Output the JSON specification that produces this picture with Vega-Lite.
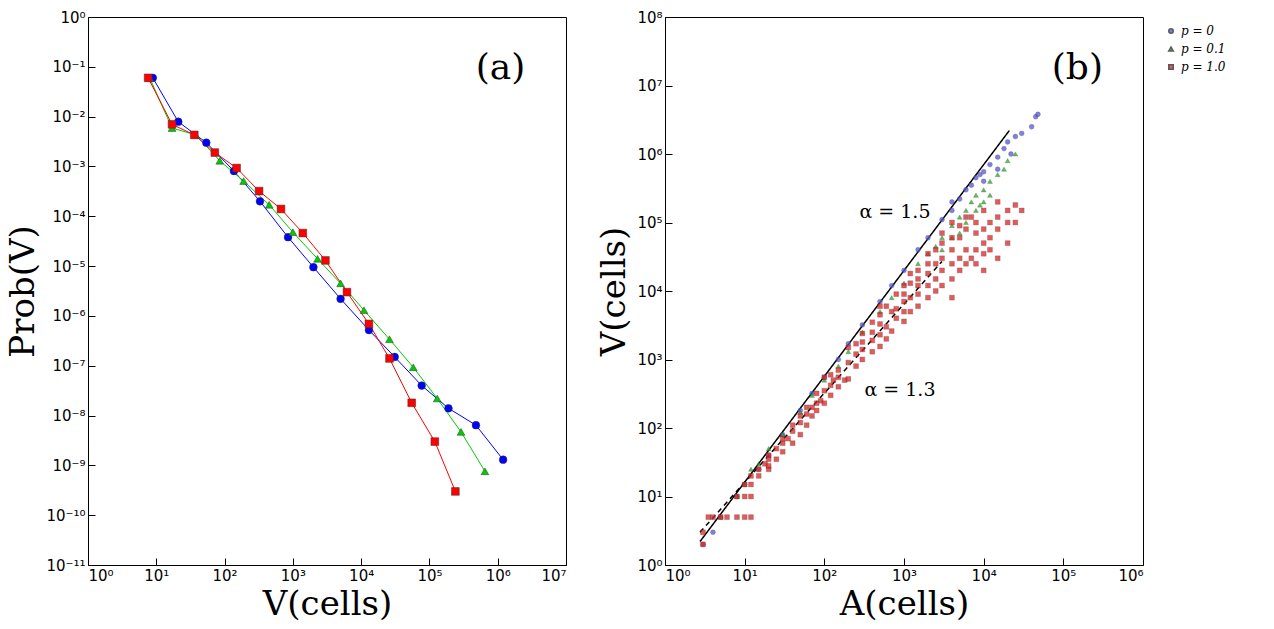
{
  "$schema": "https://vega.github.io/schema/vega-lite/v6.json",
  "background": "white",
  "padding": {"left": 6, "top": 9, "right": 5, "bottom": 2},
  "spacing": 30,
  "datasets": {
    "a": [
      {"s": "p = 0", "V": 8.9, "P": 0.06}, {"s": "p = 0", "V": 21, "P": 0.0079}, {"s": "p = 0", "V": 54, "P": 0.003},
      {"s": "p = 0", "V": 137, "P": 0.00081}, {"s": "p = 0", "V": 330, "P": 0.0002}, {"s": "p = 0", "V": 850, "P": 0.000038},
      {"s": "p = 0", "V": 2000, "P": 0.0000095}, {"s": "p = 0", "V": 5000, "P": 0.0000022}, {"s": "p = 0", "V": 13000, "P": 5.2e-7},
      {"s": "p = 0", "V": 31000, "P": 1.5e-7}, {"s": "p = 0", "V": 77000, "P": 4e-8}, {"s": "p = 0", "V": 190000, "P": 1.4e-8},
      {"s": "p = 0", "V": 480000, "P": 6.4e-9}, {"s": "p = 0", "V": 1200000, "P": 1.3e-9},
      {"s": "p = 0.1", "V": 8, "P": 0.06}, {"s": "p = 0.1", "V": 17, "P": 0.0059}, {"s": "p = 0.1", "V": 38, "P": 0.0043},
      {"s": "p = 0.1", "V": 85, "P": 0.0013}, {"s": "p = 0.1", "V": 190, "P": 0.00051}, {"s": "p = 0.1", "V": 450, "P": 0.00017},
      {"s": "p = 0.1", "V": 1000, "P": 0.000048}, {"s": "p = 0.1", "V": 2300, "P": 0.000014}, {"s": "p = 0.1", "V": 5000, "P": 0.0000045},
      {"s": "p = 0.1", "V": 11000, "P": 0.0000013}, {"s": "p = 0.1", "V": 26000, "P": 3.4e-7}, {"s": "p = 0.1", "V": 58000, "P": 9.3e-8},
      {"s": "p = 0.1", "V": 130000, "P": 2.2e-8}, {"s": "p = 0.1", "V": 290000, "P": 4.7e-9}, {"s": "p = 0.1", "V": 650000, "P": 7.6e-10},
      {"s": "p = 1.0", "V": 7.6, "P": 0.06}, {"s": "p = 1.0", "V": 17, "P": 0.007}, {"s": "p = 1.0", "V": 36, "P": 0.0043},
      {"s": "p = 1.0", "V": 72, "P": 0.0019}, {"s": "p = 1.0", "V": 150, "P": 0.00093}, {"s": "p = 1.0", "V": 320, "P": 0.00032},
      {"s": "p = 1.0", "V": 670, "P": 0.00014}, {"s": "p = 1.0", "V": 1400, "P": 0.000046}, {"s": "p = 1.0", "V": 3000, "P": 0.000013},
      {"s": "p = 1.0", "V": 6200, "P": 0.000003}, {"s": "p = 1.0", "V": 13000, "P": 6.9e-7}, {"s": "p = 1.0", "V": 26000, "P": 1.4e-7},
      {"s": "p = 1.0", "V": 55000, "P": 1.8e-8}, {"s": "p = 1.0", "V": 120000, "P": 3e-9}, {"s": "p = 1.0", "V": 240000, "P": 3e-10}
    ],
    "b": [
      {"p": "p = 0", "A": 3, "V": 2}, {"p": "p = 0", "A": 4, "V": 3}, {"p": "p = 0", "A": 5, "V": 5}, {"p": "p = 0", "A": 8, "V": 10},
      {"p": "p = 0", "A": 10, "V": 15}, {"p": "p = 0", "A": 15, "V": 25}, {"p": "p = 0", "A": 20, "V": 40}, {"p": "p = 0", "A": 30, "V": 80},
      {"p": "p = 0", "A": 50, "V": 180}, {"p": "p = 0", "A": 100, "V": 550}, {"p": "p = 0", "A": 200, "V": 1700}, {"p": "p = 0", "A": 300, "V": 3200},
      {"p": "p = 0", "A": 500, "V": 7000}, {"p": "p = 0", "A": 1000, "V": 20000}, {"p": "p = 0", "A": 2000, "V": 60000}, {"p": "p = 0", "A": 3000, "V": 110000},
      {"p": "p = 0", "A": 4000, "V": 150000}, {"p": "p = 0", "A": 4000, "V": 200000}, {"p": "p = 0", "A": 5000, "V": 220000}, {"p": "p = 0", "A": 6000, "V": 300000},
      {"p": "p = 0", "A": 8000, "V": 450000}, {"p": "p = 0", "A": 10000, "V": 550000}, {"p": "p = 0", "A": 10000, "V": 400000}, {"p": "p = 0", "A": 12000, "V": 700000},
      {"p": "p = 0", "A": 15000, "V": 900000}, {"p": "p = 0", "A": 15000, "V": 600000}, {"p": "p = 0", "A": 20000, "V": 1500000}, {"p": "p = 0", "A": 25000, "V": 1800000},
      {"p": "p = 0", "A": 30000, "V": 2000000}, {"p": "p = 0", "A": 40000, "V": 2500000}, {"p": "p = 0", "A": 45000, "V": 3500000}, {"p": "p = 0", "A": 48000, "V": 3800000},
      {"p": "p = 0", "A": 7000, "V": 350000}, {"p": "p = 0", "A": 9000, "V": 500000}, {"p": "p = 0", "A": 18000, "V": 1200000}, {"p": "p = 0", "A": 22000, "V": 1000000},
      {"p": "p = 0", "A": 1500, "V": 40000}, {"p": "p = 0", "A": 700, "V": 12000}, {"p": "p = 0", "A": 150, "V": 1000}, {"p": "p = 0", "A": 70, "V": 320},
      {"p": "p = 0.1", "A": 5, "V": 5}, {"p": "p = 0.1", "A": 8, "V": 10}, {"p": "p = 0.1", "A": 10, "V": 15}, {"p": "p = 0.1", "A": 12, "V": 25},
      {"p": "p = 0.1", "A": 15, "V": 30}, {"p": "p = 0.1", "A": 20, "V": 50}, {"p": "p = 0.1", "A": 30, "V": 80}, {"p": "p = 0.1", "A": 50, "V": 170},
      {"p": "p = 0.1", "A": 70, "V": 300}, {"p": "p = 0.1", "A": 100, "V": 500}, {"p": "p = 0.1", "A": 150, "V": 800}, {"p": "p = 0.1", "A": 200, "V": 1300},
      {"p": "p = 0.1", "A": 300, "V": 2500}, {"p": "p = 0.1", "A": 500, "V": 5000}, {"p": "p = 0.1", "A": 700, "V": 8000}, {"p": "p = 0.1", "A": 1000, "V": 13000},
      {"p": "p = 0.1", "A": 1500, "V": 25000}, {"p": "p = 0.1", "A": 2000, "V": 35000}, {"p": "p = 0.1", "A": 3000, "V": 60000}, {"p": "p = 0.1", "A": 3000, "V": 40000},
      {"p": "p = 0.1", "A": 4000, "V": 90000}, {"p": "p = 0.1", "A": 5000, "V": 120000}, {"p": "p = 0.1", "A": 5000, "V": 70000}, {"p": "p = 0.1", "A": 6000, "V": 150000},
      {"p": "p = 0.1", "A": 7000, "V": 200000}, {"p": "p = 0.1", "A": 8000, "V": 250000}, {"p": "p = 0.1", "A": 8000, "V": 150000}, {"p": "p = 0.1", "A": 10000, "V": 300000},
      {"p": "p = 0.1", "A": 10000, "V": 200000}, {"p": "p = 0.1", "A": 12000, "V": 400000}, {"p": "p = 0.1", "A": 15000, "V": 500000}, {"p": "p = 0.1", "A": 20000, "V": 800000},
      {"p": "p = 0.1", "A": 25000, "V": 1000000}, {"p": "p = 0.1", "A": 6000, "V": 100000}, {"p": "p = 0.1", "A": 9000, "V": 180000}, {"p": "p = 0.1", "A": 12000, "V": 250000},
      {"p": "p = 0.1", "A": 4000, "V": 60000}, {"p": "p = 0.1", "A": 2500, "V": 45000}, {"p": "p = 0.1", "A": 18000, "V": 600000},
      {"p": "p = 1.0", "A": 3, "V": 2}, {"p": "p = 1.0", "A": 3, "V": 3}, {"p": "p = 1.0", "A": 3.5, "V": 5}, {"p": "p = 1.0", "A": 4, "V": 5},
      {"p": "p = 1.0", "A": 5, "V": 5}, {"p": "p = 1.0", "A": 6, "V": 5}, {"p": "p = 1.0", "A": 8, "V": 5}, {"p": "p = 1.0", "A": 10, "V": 5},
      {"p": "p = 1.0", "A": 12, "V": 5}, {"p": "p = 1.0", "A": 8, "V": 10}, {"p": "p = 1.0", "A": 10, "V": 10}, {"p": "p = 1.0", "A": 12, "V": 10},
      {"p": "p = 1.0", "A": 10, "V": 15}, {"p": "p = 1.0", "A": 12, "V": 15}, {"p": "p = 1.0", "A": 15, "V": 20}, {"p": "p = 1.0", "A": 12, "V": 20},
      {"p": "p = 1.0", "A": 15, "V": 25}, {"p": "p = 1.0", "A": 20, "V": 25}, {"p": "p = 1.0", "A": 18, "V": 30}, {"p": "p = 1.0", "A": 20, "V": 40},
      {"p": "p = 1.0", "A": 25, "V": 35}, {"p": "p = 1.0", "A": 25, "V": 50}, {"p": "p = 1.0", "A": 30, "V": 45}, {"p": "p = 1.0", "A": 30, "V": 60},
      {"p": "p = 1.0", "A": 35, "V": 70}, {"p": "p = 1.0", "A": 40, "V": 60}, {"p": "p = 1.0", "A": 40, "V": 90}, {"p": "p = 1.0", "A": 50, "V": 80},
      {"p": "p = 1.0", "A": 50, "V": 120}, {"p": "p = 1.0", "A": 60, "V": 110}, {"p": "p = 1.0", "A": 60, "V": 160}, {"p": "p = 1.0", "A": 70, "V": 150},
      {"p": "p = 1.0", "A": 70, "V": 200}, {"p": "p = 1.0", "A": 80, "V": 180}, {"p": "p = 1.0", "A": 90, "V": 250}, {"p": "p = 1.0", "A": 100, "V": 230},
      {"p": "p = 1.0", "A": 100, "V": 350}, {"p": "p = 1.0", "A": 100, "V": 550}, {"p": "p = 1.0", "A": 120, "V": 300}, {"p": "p = 1.0", "A": 130, "V": 500},
      {"p": "p = 1.0", "A": 150, "V": 400}, {"p": "p = 1.0", "A": 150, "V": 700}, {"p": "p = 1.0", "A": 180, "V": 500}, {"p": "p = 1.0", "A": 200, "V": 520},
      {"p": "p = 1.0", "A": 200, "V": 900}, {"p": "p = 1.0", "A": 200, "V": 1500}, {"p": "p = 1.0", "A": 250, "V": 800}, {"p": "p = 1.0", "A": 300, "V": 1000},
      {"p": "p = 1.0", "A": 300, "V": 1800}, {"p": "p = 1.0", "A": 400, "V": 1300}, {"p": "p = 1.0", "A": 400, "V": 2500}, {"p": "p = 1.0", "A": 500, "V": 1550},
      {"p": "p = 1.0", "A": 500, "V": 3300}, {"p": "p = 1.0", "A": 500, "V": 6000}, {"p": "p = 1.0", "A": 600, "V": 2000}, {"p": "p = 1.0", "A": 700, "V": 2600},
      {"p": "p = 1.0", "A": 700, "V": 5000}, {"p": "p = 1.0", "A": 800, "V": 4000}, {"p": "p = 1.0", "A": 1000, "V": 3600}, {"p": "p = 1.0", "A": 1000, "V": 7000},
      {"p": "p = 1.0", "A": 1000, "V": 12000}, {"p": "p = 1.0", "A": 1200, "V": 5000}, {"p": "p = 1.0", "A": 1500, "V": 6000}, {"p": "p = 1.0", "A": 1500, "V": 12000},
      {"p": "p = 1.0", "A": 1500, "V": 20000}, {"p": "p = 1.0", "A": 2000, "V": 8000}, {"p": "p = 1.0", "A": 2000, "V": 18000}, {"p": "p = 1.0", "A": 2000, "V": 35000},
      {"p": "p = 1.0", "A": 2500, "V": 10000}, {"p": "p = 1.0", "A": 2500, "V": 25000}, {"p": "p = 1.0", "A": 3000, "V": 12000}, {"p": "p = 1.0", "A": 3000, "V": 30000},
      {"p": "p = 1.0", "A": 3000, "V": 50000}, {"p": "p = 1.0", "A": 4000, "V": 8000}, {"p": "p = 1.0", "A": 4000, "V": 15000}, {"p": "p = 1.0", "A": 4000, "V": 40000},
      {"p": "p = 1.0", "A": 4000, "V": 100000}, {"p": "p = 1.0", "A": 5000, "V": 20000}, {"p": "p = 1.0", "A": 5000, "V": 60000}, {"p": "p = 1.0", "A": 6000, "V": 25000},
      {"p": "p = 1.0", "A": 6000, "V": 80000}, {"p": "p = 1.0", "A": 7000, "V": 30000}, {"p": "p = 1.0", "A": 7000, "V": 120000}, {"p": "p = 1.0", "A": 8000, "V": 40000},
      {"p": "p = 1.0", "A": 10000, "V": 20000}, {"p": "p = 1.0", "A": 10000, "V": 50000}, {"p": "p = 1.0", "A": 10000, "V": 150000}, {"p": "p = 1.0", "A": 12000, "V": 60000},
      {"p": "p = 1.0", "A": 15000, "V": 30000}, {"p": "p = 1.0", "A": 15000, "V": 80000}, {"p": "p = 1.0", "A": 15000, "V": 200000}, {"p": "p = 1.0", "A": 20000, "V": 50000},
      {"p": "p = 1.0", "A": 20000, "V": 150000}, {"p": "p = 1.0", "A": 25000, "V": 100000}, {"p": "p = 1.0", "A": 30000, "V": 150000},
      {"p": "p = 1.0", "A": 20, "V": 28}, {"p": "p = 1.0", "A": 20, "V": 35}, {"p": "p = 1.0", "A": 30, "V": 70}, {"p": "p = 1.0", "A": 40, "V": 110},
      {"p": "p = 1.0", "A": 50, "V": 150}, {"p": "p = 1.0", "A": 60, "V": 200}, {"p": "p = 1.0", "A": 80, "V": 230}, {"p": "p = 1.0", "A": 80, "V": 320},
      {"p": "p = 1.0", "A": 120, "V": 420}, {"p": "p = 1.0", "A": 120, "V": 600}, {"p": "p = 1.0", "A": 150, "V": 550}, {"p": "p = 1.0", "A": 250, "V": 1200},
      {"p": "p = 1.0", "A": 250, "V": 1700}, {"p": "p = 1.0", "A": 300, "V": 1400}, {"p": "p = 1.0", "A": 300, "V": 2400}, {"p": "p = 1.0", "A": 400, "V": 1900},
      {"p": "p = 1.0", "A": 400, "V": 3500}, {"p": "p = 1.0", "A": 500, "V": 2300}, {"p": "p = 1.0", "A": 500, "V": 4500}, {"p": "p = 1.0", "A": 600, "V": 3000},
      {"p": "p = 1.0", "A": 600, "V": 6000}, {"p": "p = 1.0", "A": 800, "V": 5500}, {"p": "p = 1.0", "A": 800, "V": 9000}, {"p": "p = 1.0", "A": 1000, "V": 5000},
      {"p": "p = 1.0", "A": 1000, "V": 9000}, {"p": "p = 1.0", "A": 1200, "V": 8000}, {"p": "p = 1.0", "A": 1200, "V": 13000}, {"p": "p = 1.0", "A": 1200, "V": 18000},
      {"p": "p = 1.0", "A": 1500, "V": 9000}, {"p": "p = 1.0", "A": 1500, "V": 15000}, {"p": "p = 1.0", "A": 2000, "V": 12000}, {"p": "p = 1.0", "A": 2000, "V": 25000},
      {"p": "p = 1.0", "A": 2500, "V": 15000}, {"p": "p = 1.0", "A": 2500, "V": 40000}, {"p": "p = 1.0", "A": 3000, "V": 20000}, {"p": "p = 1.0", "A": 3000, "V": 70000},
      {"p": "p = 1.0", "A": 4000, "V": 25000}, {"p": "p = 1.0", "A": 4000, "V": 60000}, {"p": "p = 1.0", "A": 5000, "V": 30000}, {"p": "p = 1.0", "A": 5000, "V": 90000},
      {"p": "p = 1.0", "A": 6000, "V": 40000}, {"p": "p = 1.0", "A": 6000, "V": 120000}, {"p": "p = 1.0", "A": 8000, "V": 25000}, {"p": "p = 1.0", "A": 8000, "V": 70000},
      {"p": "p = 1.0", "A": 8000, "V": 100000}, {"p": "p = 1.0", "A": 10000, "V": 35000}, {"p": "p = 1.0", "A": 10000, "V": 80000}, {"p": "p = 1.0", "A": 12000, "V": 100000},
      {"p": "p = 1.0", "A": 12000, "V": 40000}, {"p": "p = 1.0", "A": 15000, "V": 120000}, {"p": "p = 1.0", "A": 20000, "V": 100000}, {"p": "p = 1.0", "A": 25000, "V": 180000}
    ],
    "fits": [
      {"fit": "1.5", "A": 2.75, "V": 2.2}, {"fit": "1.5", "A": 21000, "V": 2200000},
      {"fit": "1.3", "A": 2.75, "V": 3}, {"fit": "1.3", "A": 3000, "V": 27000}
    ]
  },
  "hconcat": [
    {
      "width": 478,
      "height": 548,
      "layer": [
        {
          "data": {"name": "a"},
          "mark": {"type": "line", "strokeWidth": 1},
          "encoding": {
            "x": {"field": "V", "type": "quantitative", "scale": {"type": "log", "domain": [1, 10000000], "nice": false},
              "axis": {"values": [1, 10, 100, 1000, 10000, 100000, 1000000, 10000000], "title": "V(cells)"}},
            "y": {"field": "P", "type": "quantitative", "scale": {"type": "log", "domain": [1e-11, 1], "nice": false},
              "axis": {"values": [1e-11, 1e-10, 1e-9, 1e-8, 1e-7, 1e-6, 1e-5, 1e-4, 1e-3, 1e-2, 1e-1, 1], "title": "Prob(V)"}},
            "color": {"field": "s", "type": "nominal", "scale": {"domain": ["p = 0", "p = 0.1", "p = 1.0"], "range": ["#0000ff", "#00cc00", "#ff0000"]}, "legend": null}
          }
        },
        {
          "data": {"name": "a"},
          "mark": {"type": "point", "filled": true, "opacity": 1, "size": 60, "stroke": "#333", "strokeWidth": 0.5},
          "encoding": {
            "x": {"field": "V", "type": "quantitative"},
            "y": {"field": "P", "type": "quantitative"},
            "color": {"field": "s", "type": "nominal", "legend": null},
            "shape": {"field": "s", "type": "nominal", "scale": {"domain": ["p = 0", "p = 0.1", "p = 1.0"], "range": ["circle", "triangle-up", "square"]}, "legend": null}
          }
        },
        {
          "data": {"values": [{"x": 1100000, "y": 0.095, "t": "(a)"}]},
          "mark": {"type": "text", "font": "DejaVu Serif", "fontSize": 36},
          "encoding": {"x": {"field": "x", "type": "quantitative"}, "y": {"field": "y", "type": "quantitative"}, "text": {"field": "t"}}
        }
      ]
    },
    {
      "width": 478,
      "height": 548,
      "layer": [
        {
          "data": {"name": "fits"},
          "mark": {"type": "line", "color": "black", "strokeWidth": 1.5},
          "encoding": {
            "x": {"field": "A", "type": "quantitative", "scale": {"type": "log", "domain": [1, 1000000], "nice": false},
              "axis": {"values": [1, 10, 100, 1000, 10000, 100000, 1000000], "title": "A(cells)"}},
            "y": {"field": "V", "type": "quantitative", "scale": {"type": "log", "domain": [1, 100000000], "nice": false},
              "axis": {"values": [1, 10, 100, 1000, 10000, 100000, 1000000, 10000000, 100000000], "title": "V(cells)"}},
            "detail": {"field": "fit"},
            "strokeDash": {"field": "fit", "type": "nominal", "scale": {"domain": ["1.5", "1.3"], "range": [[1, 0], [5, 4]]}, "legend": null}
          }
        },
        {
          "data": {"name": "b"},
          "mark": {"type": "point", "filled": true, "size": 24, "opacity": 0.75, "stroke": "#222", "strokeWidth": 0.3},
          "encoding": {
            "x": {"field": "A", "type": "quantitative"},
            "y": {"field": "V", "type": "quantitative"},
            "color": {"field": "p", "type": "nominal", "title": null,
              "scale": {"domain": ["p = 0", "p = 0.1", "p = 1.0"], "range": ["#5555dd", "#22aa22", "#dd2222"]},
              "legend": {"orient": "none", "legendX": 500, "legendY": 8, "labelFont": "DejaVu Serif", "labelFontStyle": "italic", "labelFontSize": 12, "symbolSize": 20, "rowPadding": 6}},
            "shape": {"field": "p", "type": "nominal",
              "scale": {"domain": ["p = 0", "p = 0.1", "p = 1.0"], "range": ["circle", "triangle-up", "square"]}}
          }
        },
        {
          "data": {"values": [
            {"x": 150000, "y": 18000000, "t": "(b)", "s": 36},
            {"x": 770, "y": 140000, "t": "α = 1.5", "s": 19},
            {"x": 890, "y": 360, "t": "α = 1.3", "s": 19}
          ]},
          "mark": {"type": "text", "font": "DejaVu Serif"},
          "encoding": {"x": {"field": "x", "type": "quantitative"}, "y": {"field": "y", "type": "quantitative"}, "text": {"field": "t"},
            "size": {"field": "s", "type": "quantitative", "scale": null}}
        }
      ]
    }
  ],
  "resolve": {"scale": {"color": "independent", "shape": "independent"}},
  "config": {
    "view": {"stroke": "black", "strokeWidth": 1},
    "axis": {
      "grid": false,
      "domain": false,
      "tickSize": -7,
      "tickColor": "black",
      "labelPadding": 10,
      "labelFont": "DejaVu Sans",
      "labelFontSize": 15,
      "labelColor": "black",
      "titleFont": "DejaVu Serif",
      "titleFontWeight": "normal",
      "titleFontSize": 34,
      "titleColor": "black",
      "labelExpr": "'10' + (round(log(datum.value)/LN10) < 0 ? '⁻' : '') + ['⁰','¹','²','³','⁴','⁵','⁶','⁷','⁸','⁹','¹⁰','¹¹'][abs(round(log(datum.value)/LN10))]"
    },
    "axisX": {"titlePadding": 4},
    "axisY": {"titlePadding": 5}
  }
}
